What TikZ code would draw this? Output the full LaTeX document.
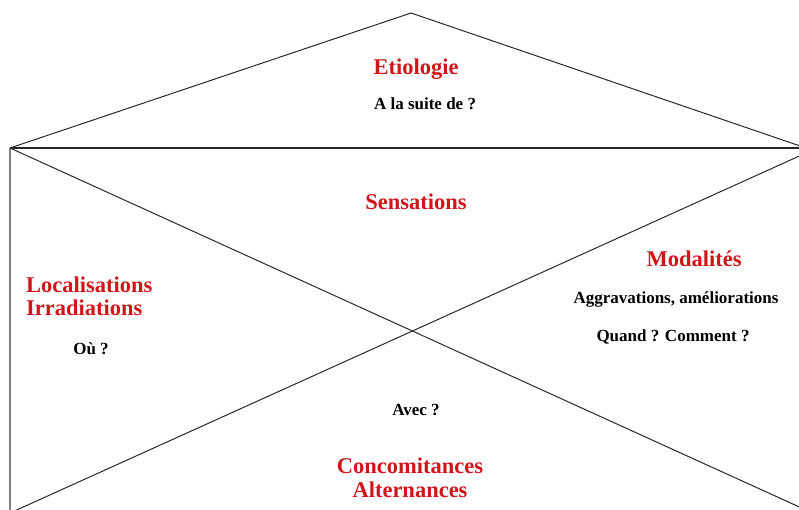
\documentclass[tikz,border=0pt]{standalone}
\usepackage{fontspec}
\setmainfont{Liberation Serif}
\definecolor{titred}{RGB}{208,22,26}
\definecolor{traitgris}{RGB}{40,40,40}

\begin{document}
\begin{tikzpicture}[x=1pt,y=-1pt,
    trait/.style={draw=traitgris,line width=1pt},
    titre/.style={inner sep=0pt,anchor=base,text=titred,font=\bfseries\fontsize{22.5}{27}\selectfont},
    question/.style={inner sep=0pt,anchor=base,font=\bfseries\fontsize{17}{20}\selectfont}]
  \useasboundingbox (0,0) rectangle (799,509);
  \clip (0,0) rectangle (799,509);
  % toit et maison
  \coordinate (tl) at (10,148);
  \coordinate (tr) at (806,148);
  \coordinate (top) at (411,13);
  \coordinate (bl) at (10,514);
  \coordinate (dbr) at (806,510);
  \coordinate (dtr) at (806,153);
  \coordinate (dbl) at (10,513);
  \draw[trait] (tl) -- (top) -- (tr);
  \draw[trait,line width=1.8pt] (tl) -- (tr);
  \draw[trait,line width=1.5pt,draw=gray] (tl) -- (bl);
  \draw[trait] (tl) -- (dbr);
  \draw[trait] (dtr) -- (dbl);
  % textes
  \node[titre] (etio) at (416,74) {Etiologie};
  \node[question] (suite) at (425,109) {A la suite de ?};
  \node[titre] (sens) at (416,209) {Sensations};
  \node[titre] (moda) at (694,266) {Modalités};
  \node[question] (aggr) at (676,303) {Aggravations, améliorations};
  \node[question] (quand) at (673,341) {Quand ? Comment ?};
  \node[titre,anchor=base west] (loca) at (26,292) {Localisations};
  \node[titre,anchor=base west] (irra) at (26,315) {Irradiations};
  \node[question] (ou) at (91,354) {Où ?};
  \node[question] (avec) at (416,415) {Avec ?};
  \node[titre] (conco) at (410,473) {Concomitances};
  \node[titre] (alter) at (410,497) {Alternances};
\end{tikzpicture}
\end{document}
